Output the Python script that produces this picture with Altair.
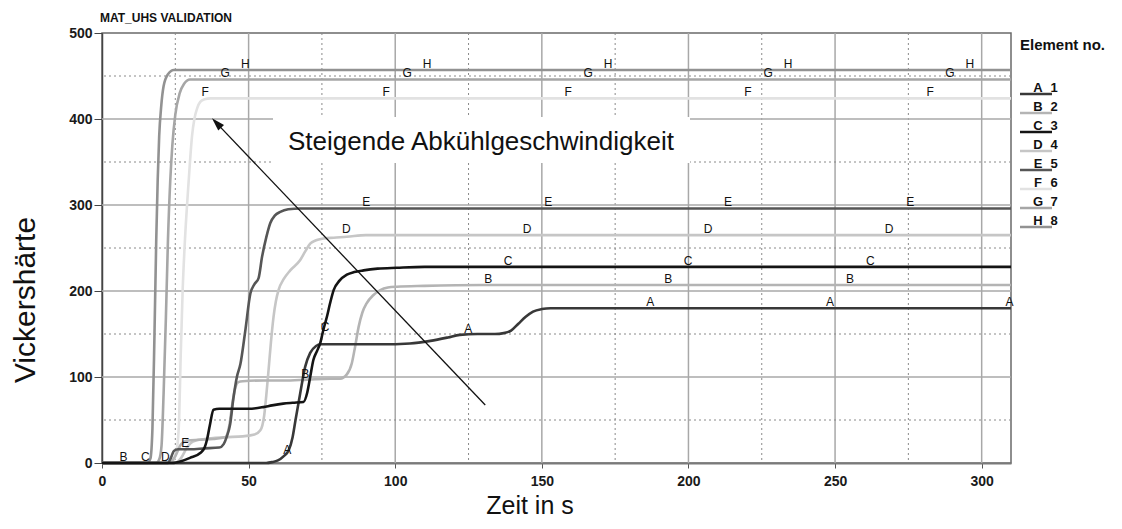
import altair as alt
import pandas as pd

FONT = "Liberation Sans"

# ---------------- data ----------------
series = ["A", "B", "C", "D", "E", "F", "G", "H"]
element_no = ["1", "2", "3", "4", "5", "6", "7", "8"]
colors = ["#383838", "#b4b4b4", "#141414", "#c6c6c6", "#565656", "#e2e2e2", "#a6a6a6", "#929292"]

t_A = [0, 56, 58, 60, 62, 63.7, 65, 66, 67.6, 69.3, 71, 73, 74.5, 80, 95, 105, 112, 118, 122, 128, 134, 137, 139.5, 142, 144.5, 147, 150, 153, 310]
v_A = [0, 0, 1, 3, 8, 15, 30, 50, 81, 112, 128, 136, 138, 138, 138, 139, 142, 146, 149, 150, 150, 151, 154, 162, 170, 176, 179, 180, 180]

t_B = [0, 23, 25, 27, 29, 33, 38, 42, 43.5, 44.5, 45.5, 46.5, 48, 55, 62, 70, 78, 81.2, 83.5, 85.2, 86.3, 87.5, 88.8, 90.3, 92.5, 94.9, 97.5, 100.6, 110, 130, 310]
v_B = [0, 0, 8, 22, 26, 27, 28, 30, 45, 70, 88, 94, 95, 96, 96, 97, 98, 98, 103, 116, 135, 158, 175, 186, 195, 201, 204, 205, 206, 207, 207]

t_C = [0, 24, 27, 30, 33.5, 35, 35.8, 36.9, 38, 40, 50, 55, 58, 61.8, 65, 68.7, 70, 71, 72.1, 73.3, 74.4, 75.5, 76.7, 77.8, 79, 81, 83.5, 86, 89.2, 94, 100.6, 110, 310]
v_C = [0, 0, 2, 6, 11.6, 18, 27, 46, 62, 63, 63, 65, 67, 69, 70, 71, 82, 100, 120, 130, 139, 155, 170, 186, 201, 212, 219, 222, 224, 226, 227, 228, 228]

t_D = [0, 25, 27, 29, 31, 35, 42, 48, 52, 54, 55.3, 56.2, 56.8, 57.6, 58.5, 59.3, 60.2, 62, 64.2, 67.6, 69.3, 71, 73, 75.5, 79, 83.5, 90, 310]
v_D = [0, 0, 6, 18, 25, 28, 30, 31, 33, 38, 55, 85, 108, 140, 170, 188, 201, 214, 224, 236, 246, 255, 259, 261, 262, 263, 265, 265]

t_E = [0, 22.5, 23.5, 24.5, 26, 30, 35, 40, 41.5, 42.5, 43.7, 44.8, 46, 47.2, 48.8, 50.6, 52, 53.4, 54.6, 56, 57.4, 59, 60.8, 63.5, 67.6, 75, 310]
v_E = [0, 0, 6, 14, 16, 16, 17, 18, 22, 30, 45, 75, 100, 115, 152, 197, 208, 215, 240, 262, 279, 288, 292, 295, 296, 296, 296]

t_F = [0, 23, 24.5, 25.5, 26.3, 26.8, 27.5, 28.3, 29.2, 30, 30.7, 31.5, 32.5, 33.5, 35, 37, 310]
v_F = [0, 0, 4, 15, 50, 120, 200, 260, 310, 350, 380, 400, 413, 420, 423, 424, 424]

t_G = [0, 18.5, 19.5, 20.3, 21, 21.8, 22.5, 23.3, 24, 25, 26.5, 28, 30, 310]
v_G = [0, 0, 4, 20, 80, 170, 260, 330, 370, 405, 430, 441, 446, 446]

t_H = [0, 15.5, 16.5, 17.2, 17.9, 18.5, 19, 19.5, 20.2, 21, 22.5, 24.5, 310]
v_H = [0, 0, 5, 40, 150, 260, 330, 380, 415, 438, 452, 457, 457]

# curve-label positions (time, curve value)
lt_A = [63.2, 124.9, 187, 248.3, 309.5]
lv_A = [8, 149, 180, 180, 180]
lt_B = [7.3, 69.3, 131.7, 193.1, 255.1]
lv_B = [0, 97, 207, 207, 207]
lt_C = [14.8, 76.1, 138.5, 199.9, 262]
lv_C = [0, 151, 228, 228, 228]
lt_D = [21.6, 83.3, 145, 206.7, 268.4]
lv_D = [0, 265, 265, 265, 265]
lt_E = [28.4, 90.1, 152.2, 213.5, 275.6]
lv_E = [16, 296, 296, 296, 296]
lt_F = [35.2, 96.9, 159, 220.3, 282.4]
lv_F = [424, 424, 424, 424, 424]
lt_G = [42, 104.1, 165.8, 227.2, 289.2]
lv_G = [446, 446, 446, 446, 446]
lt_H = [48.9, 110.9, 172.6, 234, 296]
lv_H = [457, 457, 457, 457, 457]

x_ticks = [0, 50, 100, 150, 200, 250, 300]
y_ticks = [0, 100, 200, 300, 400, 500]
grid_x_solid = [50, 100, 150, 200, 250, 300]
grid_x_dotted = [25, 75, 125, 175, 225, 275]
grid_y_solid = [100, 200, 300, 400]
grid_y_dotted = [50, 150, 250, 350, 450]

arrow_t = [130.7, 39.4]
arrow_v = [67.4, 394.1]

title_text = "MAT_UHS VALIDATION"
x_title = "Zeit in s"
y_title = "Vickershärte"
annotation = "Steigende Abkühlgeschwindigkeit"
legend_title = "Element no."

curves = {
    "A": (t_A, v_A, lt_A, lv_A), "B": (t_B, v_B, lt_B, lv_B),
    "C": (t_C, v_C, lt_C, lv_C), "D": (t_D, v_D, lt_D, lv_D),
    "E": (t_E, v_E, lt_E, lv_E), "F": (t_F, v_F, lt_F, lv_F),
    "G": (t_G, v_G, lt_G, lv_G), "H": (t_H, v_H, lt_H, lv_H),
}
color_of = dict(zip(series, colors))

# ---------------- chart ----------------
W, H = 909, 430
xscale = alt.Scale(domain=[0, 310], nice=False, zero=False)
yscale = alt.Scale(domain=[0, 500], nice=False, zero=False)

x_axis = alt.Axis(values=x_ticks, grid=False, title=None, labelFont=FONT, labelFontSize=14,
                  labelFontWeight="bold", labelColor="#1a1a1a", tickSize=5, tickColor="#555555",
                  domainColor="#7a7a7a", domainWidth=2, labelPadding=6, labelFlush=False)
y_axis = alt.Axis(values=y_ticks, grid=False, title=None, labelFont=FONT, labelFontSize=14,
                  labelFontWeight="bold", labelColor="#1a1a1a", tickSize=8, tickColor="#444444",
                  domainColor="#444444", domainWidth=1.5, labelPadding=2, labelFlush=False)


def X(field):
    return alt.X(field, scale=xscale, axis=x_axis)


def Y(field):
    return alt.Y(field, scale=yscale, axis=y_axis)


one = pd.DataFrame({"k": [0]})
layers = []

# grid
layers.append(alt.Chart(pd.DataFrame({"x": grid_x_solid})).mark_rule(color="#a8a8a8", strokeWidth=1.5)
              .encode(x=X("x:Q")))
layers.append(alt.Chart(pd.DataFrame({"x": grid_x_dotted})).mark_rule(color="#8a8a8a", strokeWidth=1, strokeDash=[2, 3])
              .encode(x=X("x:Q")))
layers.append(alt.Chart(pd.DataFrame({"y": grid_y_solid})).mark_rule(color="#a8a8a8", strokeWidth=1.5)
              .encode(y=Y("y:Q")))
layers.append(alt.Chart(pd.DataFrame({"y": grid_y_dotted})).mark_rule(color="#8a8a8a", strokeWidth=1, strokeDash=[2, 3])
              .encode(y=Y("y:Q")))

# white box behind annotation
layers.append(alt.Chart(one).mark_rect(color="white").encode(
    x=alt.value(171), x2=alt.value(588), y=alt.value(84), y2=alt.value(130)))

# curves (light ones first)
for s in ["F", "D", "B", "G", "H", "E", "A", "C"]:
    t, v, _, _ = curves[s]
    df = pd.DataFrame({"t": t, "v": v})
    layers.append(alt.Chart(df).mark_line(color=color_of[s], strokeWidth=2.6, interpolate="monotone")
                  .encode(x=X("t:Q"), y=Y("v:Q")))

# curve labels
for s in series:
    _, _, lt, lv = curves[s]
    df = pd.DataFrame({"t": lt, "v": lv, "lab": [s] * len(lt)})
    layers.append(alt.Chart(df).mark_text(font=FONT, fontSize=12, color="#111111", dy=-6)
                  .encode(x=X("t:Q"), y=Y("v:Q"), text="lab:N"))

# arrow
adf = pd.DataFrame({"t": arrow_t, "v": arrow_v})
layers.append(alt.Chart(adf).mark_line(color="#111111", strokeWidth=1.3)
              .encode(x=X("t:Q"), y=Y("v:Q")))
layers.append(alt.Chart(adf.iloc[[1]]).mark_point(shape="M0,-1L0.5,0.65L-0.5,0.65Z", size=256, filled=True,
                                                  color="#111111", opacity=1, angle=316)
              .encode(x=X("t:Q"), y=Y("v:Q")))


# texts
def txt(s, x, y, **kw):
    return alt.Chart(pd.DataFrame({"s": [s]})).mark_text(font=FONT, color="#111111", **kw).encode(
        text="s:N", x=alt.value(x), y=alt.value(y))


layers.append(txt(annotation, 186, 109, fontSize=26, align="left", baseline="middle"))
layers.append(txt(title_text, -2, -15, fontSize=12, fontWeight="bold", align="left", baseline="middle"))
layers.append(txt(x_title, 428, 481, fontSize=25, align="center", baseline="alphabetic"))
layers.append(txt(y_title, -67, 267, fontSize=30, align="center", baseline="alphabetic", angle=270))
layers.append(txt(legend_title, 918, 12, fontSize=15, fontWeight="bold", align="left", baseline="middle"))

# legend
for i, (s, n, c) in enumerate(zip(series, element_no, colors)):
    yc = 55 + 19 * i
    layers.append(alt.Chart(one).mark_rule(color=c, strokeWidth=2.5).encode(
        x=alt.value(918), x2=alt.value(950), y=alt.value(yc + 6)))
    layers.append(txt(s, 936, yc, fontSize=13, fontWeight="bold", align="center", baseline="middle"))
    layers.append(txt(n, 952, yc, fontSize=13, fontWeight="bold", align="center", baseline="middle"))

chart = alt.layer(*layers).properties(
    width=W, height=H,
    padding={"left": 94, "top": 25, "right": 100, "bottom": 58},
    autosize=alt.AutoSizeParams(type="none"),
).configure_view(stroke="#6a6a6a", strokeWidth=1.5)

chart.save("out.html", embed_options={"renderer": "svg", "actions": False})
